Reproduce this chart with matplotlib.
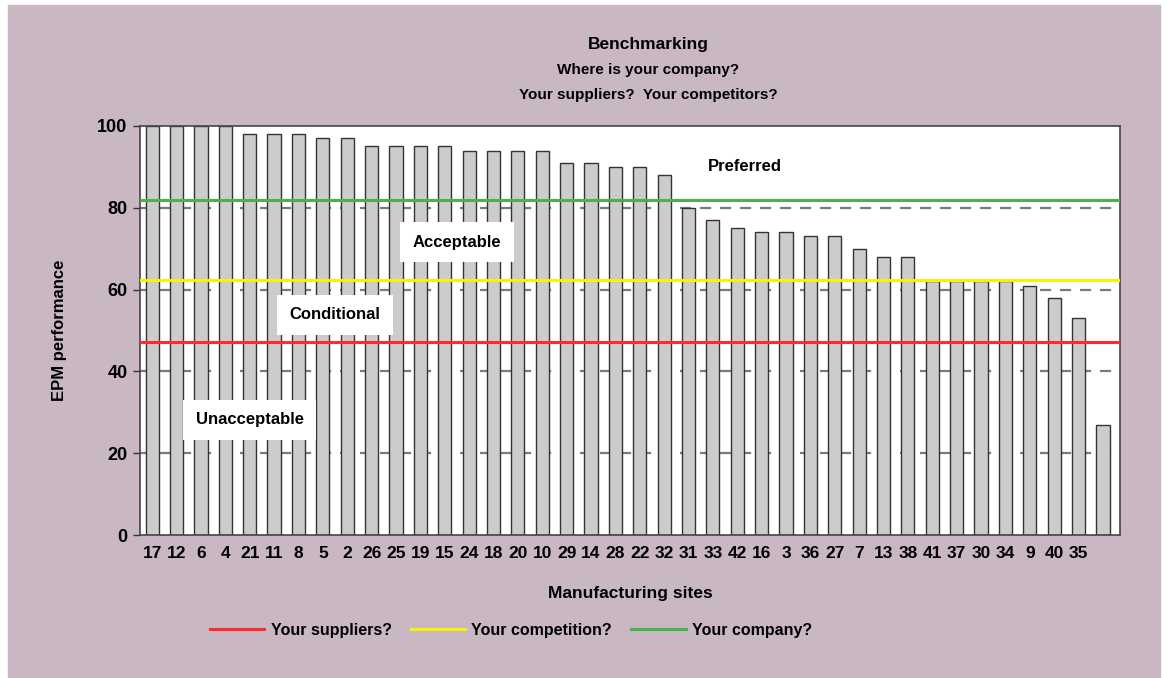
import numpy as np
import matplotlib.pyplot as plt
from matplotlib.patches import Rectangle
from matplotlib.lines import Line2D

plt.rcParams['font.family'] = ['Liberation Sans Narrow', 'Liberation Sans', 'DejaVu Sans']
plt.rcParams['font.weight'] = 'bold'

# sites in ranked order (last bar has no label in the original)
sites = ['17', '12', '6', '4', '21', '11', '8', '5', '2', '26',
         '25', '19', '15', '24', '18', '20', '10', '29', '14', '28',
         '22', '32', '31', '33', '42', '16', '3', '36', '27', '7',
         '13', '38', '41', '37', '30', '34', '9', '40', '35', '']
scores = [100, 100, 100, 100, 98, 98, 98, 97, 97, 95,
          95, 95, 95, 94, 94, 94, 94, 91, 91, 90,
          90, 88, 80, 77, 75, 74, 74, 73, 73, 70,
          68, 68, 62, 62, 62, 62, 61, 58, 53, 27]

suppliers = 47.3
competition = 62.3
company = 82

zones = ['Preferred', 'Acceptable', 'Conditional', 'Unacceptable']
zone_x = [24.3, 12.5, 7.5, 4.0]
zone_y = [90.2, 71.6, 53.9, 28.2]

BG = '#c9b8c3'
W, H = 1167, 678

fig = plt.figure(figsize=(W / 100, H / 100), dpi=100, facecolor='white')
fig.patches.append(Rectangle((8 / W, 0), 1 - 15 / W, 1 - 5 / H,
                             transform=fig.transFigure, color=BG, zorder=-10))

ax = fig.add_axes([140 / W, 1 - 535 / H, 980 / W, 409 / H])
x = np.arange(len(scores))

for g in [20, 40, 60, 80]:
    ax.axhline(g, color='#7a7a7a', lw=1.6, ls=(0, (5, 4)), zorder=1)

ax.bar(x, scores, width=0.54, color='#cccccc', edgecolor='#333333', lw=1.0, zorder=2)

ax.axhline(suppliers, color='#ff2a2a', lw=2.2, zorder=3)
ax.axhline(competition, color='#f5f500', lw=2.2, zorder=3)
ax.axhline(company, color='#4caf50', lw=2.2, zorder=3)

for i, name in enumerate(zones):
    box = None if name == 'Preferred' else dict(facecolor='white', edgecolor='none', pad=9)
    ax.text(zone_x[i], zone_y[i], name, ha='center', va='center', fontsize=12,
            fontweight='bold', bbox=box, zorder=4)

ax.set_xlim(-0.5, 39.7)
ax.set_ylim(0, 100)
ax.set_yticks([0, 20, 40, 60, 80, 100])
ax.set_xticks(x[:-1])
ax.set_xticklabels(sites[:-1], fontsize=12.5, fontweight='bold')
ax.tick_params(axis='x', length=0, pad=8)
ax.tick_params(axis='y', length=5, width=1, labelsize=13, pad=4, color='#333333')
for lbl in ax.get_yticklabels():
    lbl.set_fontweight('bold')
for s in ax.spines.values():
    s.set_color('#444444')
    s.set_linewidth(1.2)

ax.set_ylabel('EPM performance', fontsize=12, fontweight='bold', labelpad=22)
ax.set_xlabel('Manufacturing sites', fontsize=12.5, fontweight='bold', labelpad=18)

fig.text(648 / W, 1 - 45 / H, 'Benchmarking', ha='center', va='center', fontsize=12.5, fontweight='bold')
fig.text(648 / W, 1 - 70 / H, 'Where is your company?', ha='center', va='center', fontsize=11, fontweight='bold')
fig.text(648 / W, 1 - 95 / H, 'Your suppliers?  Your competitors?', ha='center', va='center', fontsize=11, fontweight='bold')

handles = [Line2D([], [], color='#ff2a2a', lw=2.2),
           Line2D([], [], color='#f5f500', lw=2.2),
           Line2D([], [], color='#4caf50', lw=2.2)]
fig.legend(handles, ['Your suppliers?', 'Your competition?', 'Your company?'],
           loc='center', bbox_to_anchor=(511 / W, 1 - 630 / H), ncol=3, frameon=False,
           handlelength=3.4, handletextpad=0.4, columnspacing=1.2,
           prop={'weight': 'bold', 'size': 11.5})

fig.savefig('out.png', dpi=100, facecolor=fig.get_facecolor())
